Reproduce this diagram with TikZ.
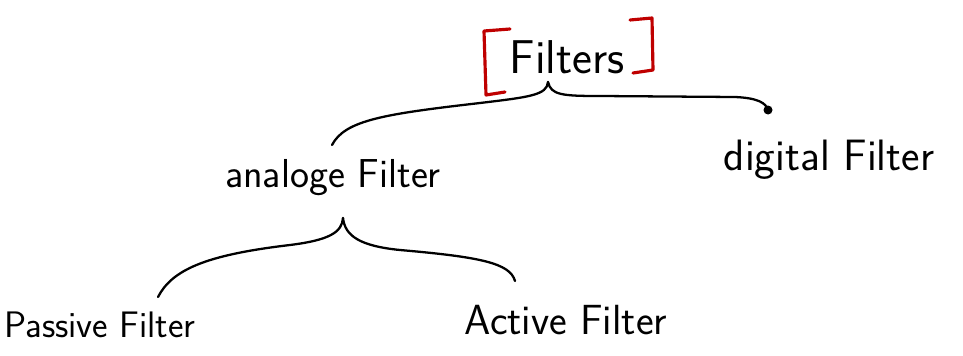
\documentclass[tikz,border=0pt]{standalone}
\usepackage{tikz}
\usetikzlibrary{positioning, calc}

\tikzset{
  label/.style={font=\sffamily\fontsize{21}{24}\selectfont, inner sep=0pt},
  biglabel/.style={label, font=\sffamily\fontsize{24}{26}\selectfont},
  brace/.style={line width=1.3pt, line cap=round},
  bracket/.style={red!75!black, line width=1.8pt, line cap=round, line join=round}
}

\begin{document}
\begin{tikzpicture}[x=0.02cm, y=-0.02cm]
    \useasboundingbox (0,0) rectangle (963,355);

    \node[label, font=\sffamily\fontsize{27}{29}\selectfont] (filters) at (567,57) {Filters};
    \draw[bracket] (510,29) -- (484,31) -- (486,95) -- (505,92);
    \draw[bracket] (630,20) -- (652,18) -- (653,70) -- (633,73);

    \node[label, font=\sffamily\fontsize{23}{25}\selectfont] (analog) at (333,178) {analoge Filter};
    \node[biglabel, font=\sffamily\fontsize{25}{27}\selectfont] (digital) at (829,160) {digital Filter};
    \node[label] (passive) at (100,325) {Passive Filter};
    \node[biglabel] (active) at (566,320) {Active Filter};

    % top brace
    \coordinate (cusp1) at (548,82);
    \coordinate (toAnalog) at (332,145);
    \coordinate (toDigital) at (768,110);
    \draw[brace] (cusp1) .. controls (547,95) and (530,97) .. (480,103)
        .. controls (385,114) and (345,120) .. (toAnalog);
    \draw[brace] (cusp1) .. controls (551,95) and (562,96) .. (600,96)
        -- (735,97) .. controls (758,98) and (766,103) .. (toDigital);
    \fill (toDigital) circle (4.5);

    % lower brace
    \coordinate (cusp2) at (343,218);
    \coordinate (toPassive) at (158,297);
    \coordinate (toActive) at (515,281);
    \draw[brace] (cusp2) .. controls (342,232) and (330,240) .. (290,245)
        .. controls (205,255) and (172,270) .. (toPassive);
    \draw[brace] (cusp2) .. controls (345,236) and (360,246) .. (400,250)
        .. controls (480,257) and (510,263) .. (toActive);
\end{tikzpicture}
\end{document}
